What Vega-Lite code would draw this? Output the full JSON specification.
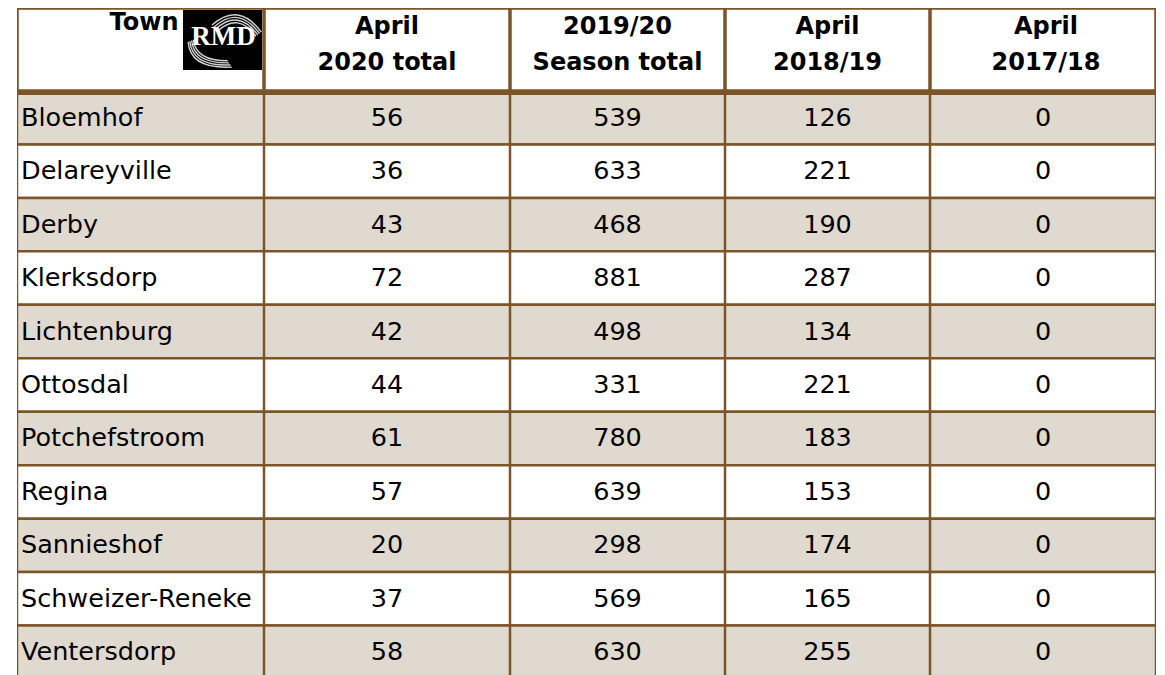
{
  "$schema": "https://vega.github.io/schema/vega-lite/v6.json",
  "padding": {"left": 17, "top": 8, "right": 8, "bottom": 0},
  "background": "white",
  "config": {"view": {"stroke": null}, "font": "DejaVu Sans"},
  "datasets": {
    "towns": [
      {"Town": "Bloemhof", "April 2020 total": 56, "2019/20 Season total": 539, "April 2018/19": 126, "April 2017/18": 0},
      {"Town": "Delareyville", "April 2020 total": 36, "2019/20 Season total": 633, "April 2018/19": 221, "April 2017/18": 0},
      {"Town": "Derby", "April 2020 total": 43, "2019/20 Season total": 468, "April 2018/19": 190, "April 2017/18": 0},
      {"Town": "Klerksdorp", "April 2020 total": 72, "2019/20 Season total": 881, "April 2018/19": 287, "April 2017/18": 0},
      {"Town": "Lichtenburg", "April 2020 total": 42, "2019/20 Season total": 498, "April 2018/19": 134, "April 2017/18": 0},
      {"Town": "Ottosdal", "April 2020 total": 44, "2019/20 Season total": 331, "April 2018/19": 221, "April 2017/18": 0},
      {"Town": "Potchefstroom", "April 2020 total": 61, "2019/20 Season total": 780, "April 2018/19": 183, "April 2017/18": 0},
      {"Town": "Regina", "April 2020 total": 57, "2019/20 Season total": 639, "April 2018/19": 153, "April 2017/18": 0},
      {"Town": "Sannieshof", "April 2020 total": 20, "2019/20 Season total": 298, "April 2018/19": 174, "April 2017/18": 0},
      {"Town": "Schweizer-Reneke", "April 2020 total": 37, "2019/20 Season total": 569, "April 2018/19": 165, "April 2017/18": 0},
      {"Town": "Ventersdorp", "April 2020 total": 58, "2019/20 Season total": 630, "April 2018/19": 255, "April 2017/18": 0}
    ]
  },
  "spacing": 0,
  "hconcat": [
    {
      "spacing": 0,
      "vconcat": [
        {
          "width": 247,
          "height": 83,
          "data": {"values": [{"h": "Town", "logo": "RMD"}]},
          "layer": [
            {"mark": {"type": "rect", "fill": "white", "stroke": "#7b5428", "strokeWidth": 3.5, "clip": true}, "encoding": {}},
            {
              "mark": {"type": "text", "fontWeight": "bold", "fontSize": 24, "align": "right", "baseline": "middle", "dx": 38, "dy": -27, "color": "black", "clip": true},
              "encoding": {"text": {"field": "h"}}
            },
            {
              "mark": {"type": "rect", "fill": "black", "clip": true},
              "encoding": {"x": {"value": 166}, "x2": {"value": 245}, "y": {"value": 2}, "y2": {"value": 62}}
            },
            {
              "mark": {"type": "point", "clip": true, "shape": "M -0.33 -0.54 Q 0.435 -1.22 1.08 -0.34 M -0.28 -0.48 Q 0.43 -1.12 1.03 -0.3 M -0.23 -0.42 Q 0.425 -1.02 0.98 -0.26 M -0.18 -0.36 Q 0.42 -0.92 0.93 -0.22 M -1.01 -0.06 Q -0.955 0.72 0.24 0.66 M -0.96 -0.08 Q -0.9 0.64 0.2 0.6 M -0.91 -0.1 Q -0.845 0.56 0.16 0.54 M -0.86 -0.12 Q -0.79 0.48 0.12 0.48", "filled": false, "stroke": "#e8e8e8", "strokeWidth": 1.4, "size": 4900, "opacity": 0.9},
              "encoding": {"x": {"value": 206.5}, "y": {"value": 36}}
            },
            {
              "mark": {"type": "text", "font": "Liberation Serif", "fontWeight": "bold", "fontSize": 27, "color": "white", "align": "center", "baseline": "alphabetic", "clip": true},
              "encoding": {"x": {"value": 206.5}, "y": {"value": 37}, "text": {"field": "logo"}}
            }
          ]
        },
        {
          "width": 247,
          "height": 588,
          "data": {"name": "towns"},
          "transform": [{"window": [{"op": "row_number", "as": "rn"}]}],
          "encoding": {
            "y": {"field": "Town", "type": "nominal", "sort": null, "axis": null, "scale": {"paddingInner": 0, "paddingOuter": 0}}
          },
          "layer": [
            {
              "mark": {"type": "rect", "stroke": "#7b5428", "strokeWidth": 2.5, "clip": true},
              "encoding": {"fill": {"condition": {"test": "datum.rn % 2 === 1", "value": "#e0d9cf"}, "value": "white"}}
            },
            {
              "mark": {"type": "text", "fontSize": 25.5, "align": "left", "baseline": "middle", "dx": 4, "color": "black"},
              "encoding": {
                "x": {"datum": "Town", "type": "nominal", "bandPosition": 0, "axis": null, "scale": {"type": "band", "paddingInner": 0, "paddingOuter": 0}},
                "text": {"field": "Town"}
              }
            },
            {
              "mark": {"type": "rule", "stroke": "#7b5428", "strokeWidth": 7, "clip": true},
              "encoding": {"y": {"datum": "Bloemhof", "type": "nominal", "bandPosition": 0}}
            }
          ]
        }
      ]
    },
    {
      "spacing": 0,
      "vconcat": [
        {
          "width": 246,
          "height": 83,
          "data": {"values": [{"label": "April\n2020 total"}]},
          "layer": [
            {"mark": {"type": "rect", "fill": "white", "stroke": "#7b5428", "strokeWidth": 3.5, "clip": true}, "encoding": {}},
            {"mark": {"type": "text", "fontWeight": "bold", "fontSize": 24, "lineBreak": "\n", "lineHeight": 36, "baseline": "middle", "dy": -22.5, "color": "black"}, "encoding": {"text": {"field": "label"}}}
          ]
        },
        {
          "width": 246,
          "height": 588,
          "data": {"name": "towns"},
          "transform": [{"window": [{"op": "row_number", "as": "rn"}]}],
          "encoding": {
            "y": {"field": "Town", "type": "nominal", "sort": null, "axis": null, "scale": {"paddingInner": 0, "paddingOuter": 0}}
          },
          "layer": [
            {"mark": {"type": "rect", "stroke": "#7b5428", "strokeWidth": 2.5, "clip": true}, "encoding": {"fill": {"condition": {"test": "datum.rn % 2 === 1", "value": "#e0d9cf"}, "value": "white"}}},
            {"mark": {"type": "text", "fontSize": 25.5, "baseline": "middle", "color": "black"}, "encoding": {"text": {"field": "April 2020 total", "type": "quantitative"}}},
            {"mark": {"type": "rule", "stroke": "#7b5428", "strokeWidth": 7, "clip": true}, "encoding": {"y": {"datum": "Bloemhof", "type": "nominal", "bandPosition": 0}}}
          ]
        }
      ]
    },
    {
      "spacing": 0,
      "vconcat": [
        {
          "width": 215,
          "height": 83,
          "data": {"values": [{"label": "2019/20\nSeason total"}]},
          "layer": [
            {"mark": {"type": "rect", "fill": "white", "stroke": "#7b5428", "strokeWidth": 3.5, "clip": true}, "encoding": {}},
            {"mark": {"type": "text", "fontWeight": "bold", "fontSize": 24, "lineBreak": "\n", "lineHeight": 36, "baseline": "middle", "dy": -22.5, "color": "black"}, "encoding": {"text": {"field": "label"}}}
          ]
        },
        {
          "width": 215,
          "height": 588,
          "data": {"name": "towns"},
          "transform": [{"window": [{"op": "row_number", "as": "rn"}]}],
          "encoding": {
            "y": {"field": "Town", "type": "nominal", "sort": null, "axis": null, "scale": {"paddingInner": 0, "paddingOuter": 0}}
          },
          "layer": [
            {"mark": {"type": "rect", "stroke": "#7b5428", "strokeWidth": 2.5, "clip": true}, "encoding": {"fill": {"condition": {"test": "datum.rn % 2 === 1", "value": "#e0d9cf"}, "value": "white"}}},
            {"mark": {"type": "text", "fontSize": 25.5, "baseline": "middle", "color": "black"}, "encoding": {"text": {"field": "2019/20 Season total", "type": "quantitative"}}},
            {"mark": {"type": "rule", "stroke": "#7b5428", "strokeWidth": 7, "clip": true}, "encoding": {"y": {"datum": "Bloemhof", "type": "nominal", "bandPosition": 0}}}
          ]
        }
      ]
    },
    {
      "spacing": 0,
      "vconcat": [
        {
          "width": 205,
          "height": 83,
          "data": {"values": [{"label": "April\n2018/19"}]},
          "layer": [
            {"mark": {"type": "rect", "fill": "white", "stroke": "#7b5428", "strokeWidth": 3.5, "clip": true}, "encoding": {}},
            {"mark": {"type": "text", "fontWeight": "bold", "fontSize": 24, "lineBreak": "\n", "lineHeight": 36, "baseline": "middle", "dy": -22.5, "color": "black"}, "encoding": {"text": {"field": "label"}}}
          ]
        },
        {
          "width": 205,
          "height": 588,
          "data": {"name": "towns"},
          "transform": [{"window": [{"op": "row_number", "as": "rn"}]}],
          "encoding": {
            "y": {"field": "Town", "type": "nominal", "sort": null, "axis": null, "scale": {"paddingInner": 0, "paddingOuter": 0}}
          },
          "layer": [
            {"mark": {"type": "rect", "stroke": "#7b5428", "strokeWidth": 2.5, "clip": true}, "encoding": {"fill": {"condition": {"test": "datum.rn % 2 === 1", "value": "#e0d9cf"}, "value": "white"}}},
            {"mark": {"type": "text", "fontSize": 25.5, "baseline": "middle", "color": "black"}, "encoding": {"text": {"field": "April 2018/19", "type": "quantitative"}}},
            {"mark": {"type": "rule", "stroke": "#7b5428", "strokeWidth": 7, "clip": true}, "encoding": {"y": {"datum": "Bloemhof", "type": "nominal", "bandPosition": 0}}}
          ]
        }
      ]
    },
    {
      "spacing": 0,
      "vconcat": [
        {
          "width": 226,
          "height": 83,
          "data": {"values": [{"label": "April\n2017/18"}]},
          "layer": [
            {"mark": {"type": "rect", "fill": "white", "stroke": "#7b5428", "strokeWidth": 3.5, "clip": true}, "encoding": {}},
            {"mark": {"type": "text", "fontWeight": "bold", "fontSize": 24, "lineBreak": "\n", "lineHeight": 36, "baseline": "middle", "dy": -22.5, "dx": 3, "color": "black"}, "encoding": {"text": {"field": "label"}}}
          ]
        },
        {
          "width": 226,
          "height": 588,
          "data": {"name": "towns"},
          "transform": [{"window": [{"op": "row_number", "as": "rn"}]}],
          "encoding": {
            "y": {"field": "Town", "type": "nominal", "sort": null, "axis": null, "scale": {"paddingInner": 0, "paddingOuter": 0}}
          },
          "layer": [
            {"mark": {"type": "rect", "stroke": "#7b5428", "strokeWidth": 2.5, "clip": true}, "encoding": {"fill": {"condition": {"test": "datum.rn % 2 === 1", "value": "#e0d9cf"}, "value": "white"}}},
            {"mark": {"type": "text", "fontSize": 25.5, "baseline": "middle", "color": "black"}, "encoding": {"text": {"field": "April 2017/18", "type": "quantitative"}}},
            {"mark": {"type": "rule", "stroke": "#7b5428", "strokeWidth": 7, "clip": true}, "encoding": {"y": {"datum": "Bloemhof", "type": "nominal", "bandPosition": 0}}}
          ]
        }
      ]
    }
  ]
}
